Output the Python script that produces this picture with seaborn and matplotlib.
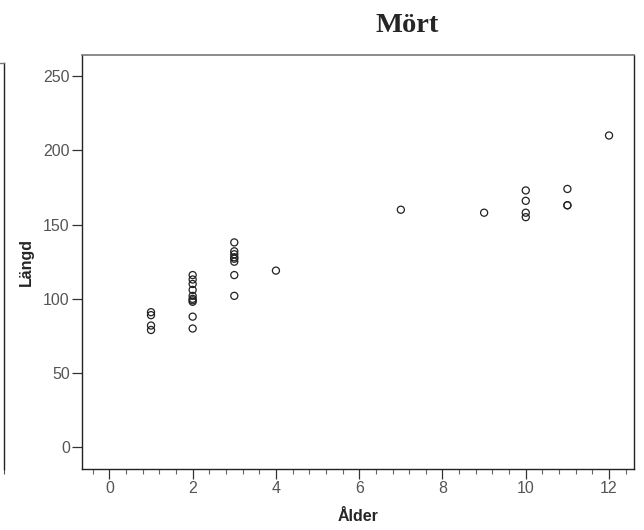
import matplotlib
matplotlib.use("Agg")
import matplotlib.pyplot as plt
import seaborn as sns
import pandas as pd
from matplotlib.ticker import MultipleLocator

# Mört (roach): age in years vs length
alder = [1, 1, 1, 1,
         2, 2, 2, 2, 2, 2, 2, 2, 2, 2,
         3, 3, 3, 3, 3, 3, 3, 3,
         4, 7, 9,
         10, 10, 10, 10,
         11, 11, 11,
         12]
langd = [91, 89, 82, 79,
         116, 113, 110, 106, 102, 100, 99, 98, 88, 80,
         138, 132, 130, 128, 127, 125, 116, 102,
         119, 160, 158,
         173, 166, 158, 155,
         174, 163, 163,
         210]

x_ticks = [0, 2, 4, 6, 8, 10, 12]
y_ticks = [0, 50, 100, 150, 200, 250]

df = pd.DataFrame({'Ålder': alder, 'Längd': langd})

sns.set_style("white")
plt.rcParams['font.family'] = ['Liberation Sans', 'DejaVu Sans']

fig = plt.figure(figsize=(6.44, 5.30), dpi=100)

# edge of the neighbouring panel, cut off at the left
ax0 = fig.add_axes([-0.5, 0.1142, 0.5062, 0.7675])
ax0.set_xlim(0, 1)
ax0.set_yticks([])
ax0.set_xticks([])
ax0.set_xticks([1.0], minor=True)
ax0.tick_params(axis='x', which='minor', bottom=True, length=3.5, width=0.8, color='#555555')
for side in ['left', 'bottom']:
    ax0.spines[side].set_visible(False)
ax0.spines['right'].set_color('#222222')
ax0.spines['top'].set_color('#777777')
ax0.spines['right'].set_linewidth(1)
ax0.spines['top'].set_linewidth(1)

ax = fig.add_axes([0.1278, 0.1157, 0.8567, 0.7805])
sns.scatterplot(data=df, x='Ålder', y='Längd', ax=ax, marker='o', s=26,
                facecolors='none', edgecolor='#222222', linewidth=0.9)

ax.set_xlim(-0.65, 12.6)
ax.set_ylim(-14.4, 264.2)
ax.set_xticks(x_ticks)
ax.set_yticks(y_ticks)
ax.xaxis.set_minor_locator(MultipleLocator(0.4))

ax.tick_params(axis='both', which='major', direction='out', length=7.5, width=0.9,
               color='#333333', labelcolor='#555555', labelsize=11.5, pad=1.5)
ax.tick_params(axis='x', which='minor', direction='out', length=3.5, width=0.8,
               color='#666666', bottom=True)
ax.tick_params(axis='x', which='major', bottom=True)
ax.tick_params(axis='y', which='major', left=True)

for side in ['left', 'bottom', 'right']:
    ax.spines[side].set_color('#222222')
    ax.spines[side].set_linewidth(1)
ax.spines['top'].set_color('#777777')
ax.spines['top'].set_linewidth(1.2)

ax.set_xlabel('Ålder', fontsize=11.5, fontweight='bold', labelpad=9)
ax.set_ylabel('Längd', fontsize=11.5, fontweight='bold', labelpad=7)

fig.text(407 / 644, 1 - 25 / 530, 'Mört', ha='center', va='center',
         fontsize=20.5, fontweight='bold', family=['Liberation Serif', 'DejaVu Serif'])

fig.savefig('out.png', dpi=100)
